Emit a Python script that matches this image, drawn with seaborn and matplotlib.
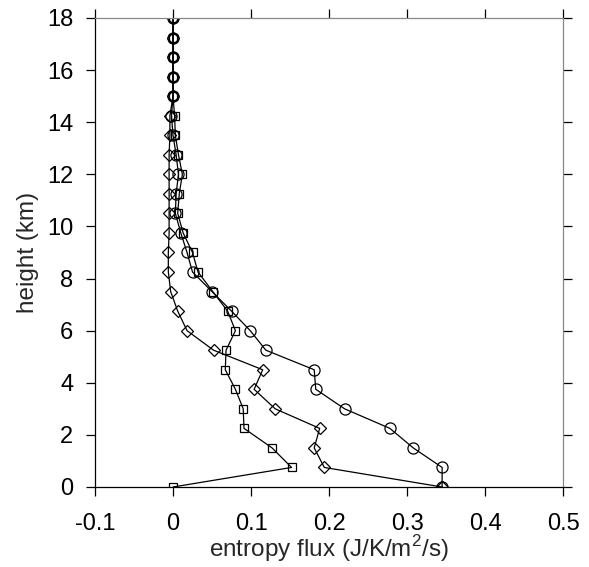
import matplotlib
matplotlib.use("Agg")
import matplotlib.pyplot as plt
import seaborn as sns

# heights (km), every 0.75 km from the surface to 18 km
height = [0, 0.75, 1.5, 2.25, 3.0, 3.75, 4.5, 5.25, 6.0, 6.75, 7.5, 8.25, 9.0,
          9.75, 10.5, 11.25, 12.0, 12.75, 13.5, 14.25, 15.0, 15.75, 16.5, 17.25, 18.0]

flux_circle = [0.345, 0.345, 0.308, 0.278, 0.220, 0.183, 0.181, 0.119, 0.099, 0.075,
               0.050, 0.025, 0.018, 0.010, 0.003, 0.004, 0.007, 0.004, 0.0, -0.002,
               0.0, 0.0, 0.0, 0.0, 0.0]
flux_square = [0.0, 0.152, 0.127, 0.091, 0.090, 0.080, 0.067, 0.068, 0.080, 0.070,
               0.051, 0.032, 0.025, 0.013, 0.006, 0.008, 0.012, 0.007, 0.003, 0.002,
               0.0, 0.0, 0.0, 0.0, 0.0]
flux_diamond = [0.345, 0.194, 0.181, 0.188, 0.131, 0.104, 0.115, 0.052, 0.018, 0.006,
                -0.003, -0.006, -0.006, -0.005, -0.005, -0.005, -0.005, -0.005, -0.004, -0.004,
                0.0, 0.0, 0.0, 0.0, 0.0]

sns.set_style("white")
plt.rcParams['font.family'] = ['Liberation Sans', 'DejaVu Sans']
plt.rcParams['mathtext.fontset'] = 'custom'
plt.rcParams['mathtext.rm'] = 'Liberation Sans'

fig = plt.figure(figsize=(5.89, 5.67), dpi=100)
ax = fig.add_axes([0.1613, 0.1411, 0.7946, 0.8272])

common = dict(sort=False, estimator=None, color="black", linewidth=0.9,
              markerfacecolor="none", markeredgecolor="black", markeredgewidth=0.9, ax=ax)
sns.lineplot(x=flux_circle, y=height, marker="o", markersize=8, **common)
sns.lineplot(x=flux_square, y=height, marker="s", markersize=6, **common)
sns.lineplot(x=flux_diamond, y=height, marker="D", markersize=6, **common)

ax.set_xlim(-0.1, 0.5)
ax.set_ylim(0, 18)
ax.set_xticks([-0.1, 0, 0.1, 0.2, 0.3, 0.4, 0.5])
ax.set_xticklabels(["-0.1", "0", "0.1", "0.2", "0.3", "0.4", "0.5"])
ax.set_yticks(range(0, 19, 2))
ax.tick_params(direction="out", length=6.5, width=0.9, labelsize=17, colors="black",
               top=True, right=True, bottom=True, left=True)
ax.tick_params(axis="x", pad=12)
ax.tick_params(axis="y", pad=9)
ax.set_xlabel(r"entropy flux (J/K/m$^\mathrm{2}$/s)", fontsize=17.5, labelpad=-1)
ax.set_ylabel("height (km)", fontsize=17.5, labelpad=6)

for side in ["left", "bottom"]:
    ax.spines[side].set_color("black")
for side in ["right", "top"]:
    ax.spines[side].set_color("#888888")
for s in ax.spines.values():
    s.set_linewidth(0.9)
    s.set_visible(True)

fig.savefig("out.png", dpi=100)
